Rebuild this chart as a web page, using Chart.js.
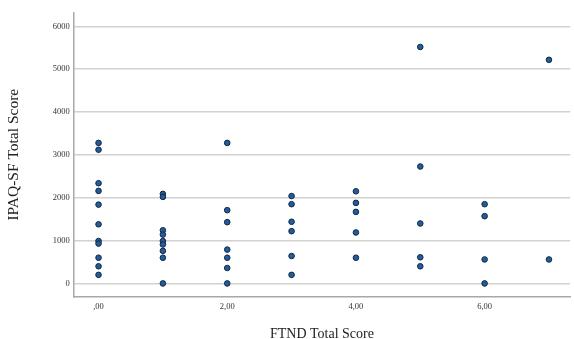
<!DOCTYPE html>
<html>
<head>
<meta charset="utf-8">
<script src="https://cdn.jsdelivr.net/npm/chart.js@4"></script>
<style>
  html, body { margin: 0; padding: 0; background: #fff; overflow: hidden; }
  #wrap { width: 574px; height: 339px; }
</style>
</head>
<body>
<div id="wrap"><canvas id="chart" width="574" height="339"></canvas></div>
<script>
// FTND score groups and the IPAQ-SF totals read for each one
const ftndScores = [0, 1, 2, 3, 4, 5, 6, 7];
const ipaqByScore = [
  [3280, 3120, 2340, 2160, 1840, 1380, 990, 930, 600, 400, 200], // 0
  [2090, 2020, 1240, 1140, 990, 910, 760, 600, 0],               // 1
  [3280, 1710, 1430, 790, 600, 360, 0],                           // 2
  [2040, 1850, 1440, 1220, 640, 200],                             // 3
  [2150, 1880, 1670, 1190, 600],                                  // 4
  [5520, 2730, 1400, 610, 400],                                   // 5
  [1850, 1570, 560, 0],                                           // 6
  [5220, 560]                                                     // 7
];
const xTickValues = [0, 2, 4, 6];
const yTickValues = [0, 1000, 2000, 3000, 4000, 5000, 6000];

const points = [];
ftndScores.forEach((s, i) => {
  ipaqByScore[i].forEach(v => points.push({ x: s, y: v }));
});

// SPSS style: ",00" / "2,00"
const fmtX = v => (v === 0 ? ',00' : v.toFixed(2).replace('.', ','));

const serif = "'Liberation Serif', 'Times New Roman', serif";

new Chart(document.getElementById('chart'), {
  type: 'scatter',
  data: {
    datasets: [{
      data: points,
      backgroundColor: '#1f5e9e',
      borderColor: '#17263d',
      borderWidth: 1,
      pointRadius: 2.8,
      pointHoverRadius: 2.8
    }]
  },
  options: {
    responsive: false,
    animation: false,
    layout: { padding: { top: 12.7, right: 0, bottom: 0, left: 0 } },
    plugins: { legend: { display: false }, tooltip: { enabled: false } },
    scales: {
      x: {
        type: 'linear',
        min: -0.386,
        max: 7.33,
        afterBuildTicks: s => { s.ticks = xTickValues.map(v => ({ value: v })); },
        afterFit: s => { s.height = 42.3; },
        grid: { display: false, drawTicks: false },
        border: { display: true, color: '#a8a8a8', width: 1.5 },
        ticks: {
          padding: 5,
          color: '#333',
          font: { family: serif, size: 8.5 },
          callback: v => fmtX(v)
        },
        title: {
          display: true,
          text: 'FTND Total Score',
          color: '#222',
          font: { family: serif, size: 14 },
          padding: { top: 0, bottom: -4 }
        }
      },
      y: {
        type: 'linear',
        min: -310,
        max: 6320,
        afterBuildTicks: s => { s.ticks = yTickValues.map(v => ({ value: v })); },
        afterFit: s => { s.width = 73.7; },
        grid: { color: '#d2d2d2', lineWidth: 1.5, drawTicks: false },
        border: { display: true, color: '#a8a8a8', width: 1.5 },
        ticks: {
          padding: 4,
          color: '#333',
          font: { family: serif, size: 8.5 },
          callback: v => String(v)
        },
        title: {
          display: true,
          text: 'IPAQ-SF Total Score',
          color: '#222',
          font: { family: serif, size: 15.5 },
          padding: { top: 4.7, bottom: 0 }
        }
      }
    }
  }
});
</script>
</body>
</html>
